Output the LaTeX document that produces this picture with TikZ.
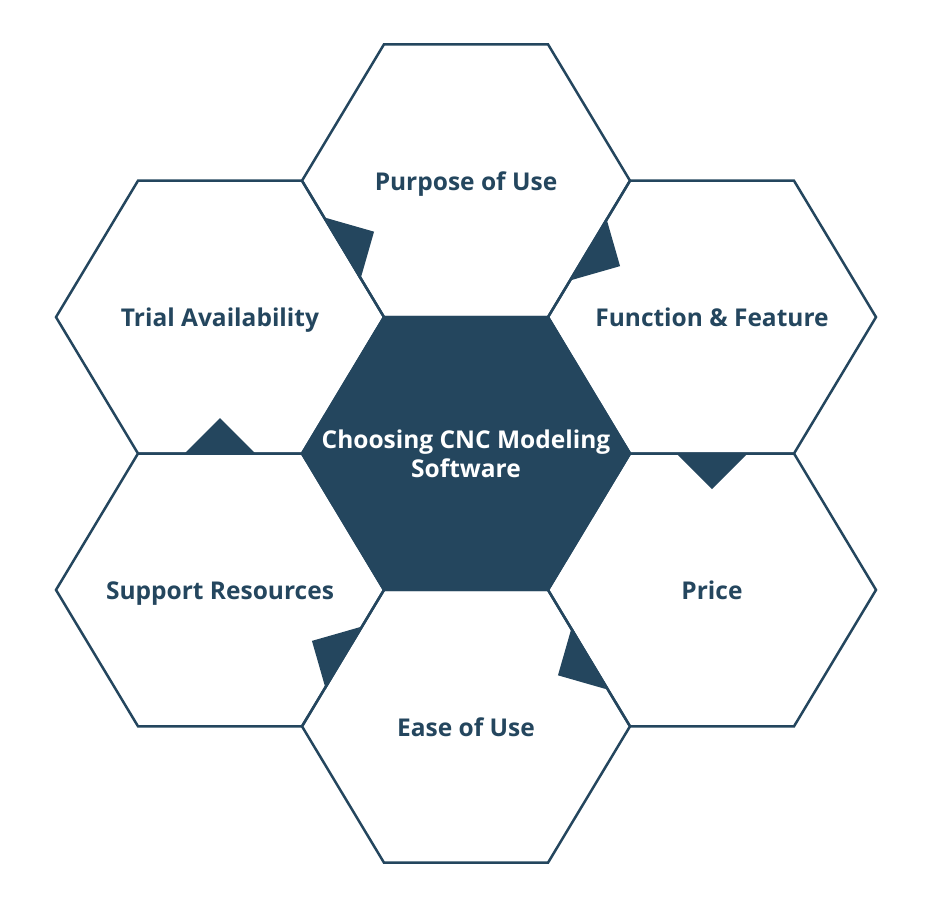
\documentclass[tikz,border=0pt]{standalone}
\usepackage{fontspec}
\setmainfont{Open Sans}
\usetikzlibrary{calc}
\definecolor{hexblue}{RGB}{36,70,94}

\begin{document}
\begin{tikzpicture}[
    x=1pt, y=-1pt,
    hexline/.style={draw=hexblue, line width=2.5pt},
    hexcore/.style={draw=hexblue, fill=hexblue, line width=2.5pt},
    topic/.style={font=\fontsize{24.5}{29}\selectfont\bfseries, text=hexblue, align=center, text height=19.6pt, text depth=0pt},
    title/.style={font=\fontsize{24.5}{29}\selectfont\bfseries, text=white, align=center},
    pointer/.style={fill=hexblue, draw=none}
    ]
    \useasboundingbox (0,0) rectangle (936,906);

    % Hexagon centres
    \coordinate (cc) at (466,453.5);
    \coordinate (cp) at (466,180.7);
    \coordinate (cf) at (712,317.1);
    \coordinate (cr) at (712,589.9);
    \coordinate (ce) at (466,726.3);
    \coordinate (cs) at (220,589.9);
    \coordinate (ct) at (220,317.1);

    % Outer ring
    \foreach \c in {cp,cf,cr,ce,cs,ct}
        \draw[hexline] (\c) +(-164,0) -- +(-82,-136.4) -- +(82,-136.4) -- +(164,0) -- +(82,136.4) -- +(-82,136.4) -- cycle;

    % Centre hexagon
    \draw[hexcore] (cc) +(-164,0) -- +(-82,-136.4) -- +(82,-136.4) -- +(164,0) -- +(82,136.4) -- +(-82,136.4) -- cycle;

    % Pointers on the shared edges
    \foreach \a/\b in {ct/cp, cp/cf, cf/cr, cr/ce, ce/cs, cs/ct} {
        \coordinate (m) at ($(\a)!0.5!(\b)$);
        \fill[pointer] ($(m)!35.5pt!90:(\b)$) -- ($(m)!35.5pt!(\b)$) -- ($(m)!35.5pt!-90:(\b)$) -- cycle;
    }

    % Labels
    \node[title] (core) at (cc) {Choosing CNC Modeling\\Software};
    \node[topic] (purpose) at (cp) {Purpose of Use};
    \node[topic] (feature) at (cf) {Function \& Feature};
    \node[topic] (price) at (cr) {Price};
    \node[topic] (ease) at (ce) {Ease of Use};
    \node[topic] (support) at (cs) {Support Resources};
    \node[topic] (trial) at (ct) {Trial Availability};

\end{tikzpicture}
\end{document}
